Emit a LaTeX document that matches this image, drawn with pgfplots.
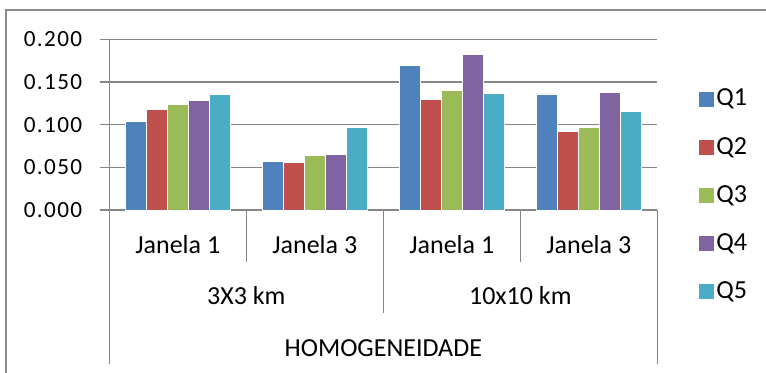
\documentclass[border=0pt]{standalone}
\usepackage{pgfplots}
\pgfplotsset{compat=1.18}
\usepackage{fontspec}
\setmainfont{Carlito}
\newfontfamily\tickfont{Carlito}[LetterSpace=6]

\definecolor{qone}{HTML}{4F81BD}
\definecolor{qtwo}{HTML}{C0504D}
\definecolor{qthree}{HTML}{9BBB59}
\definecolor{qfour}{HTML}{8064A2}
\definecolor{qfive}{HTML}{4BACC6}
\definecolor{gridgray}{HTML}{868686}
\definecolor{framegray}{HTML}{8C8C8C}

\begin{document}
\begin{tikzpicture}
\clip (0,0) rectangle (383pt,186pt);
% chart area frame
\draw[framegray, line width=0.75pt] (3pt,-5pt) -- (3pt,181pt) -- (390pt,181pt);
\begin{axis}[
  at={(54.65pt,81pt)}, anchor=south west,
  scale only axis, width=274pt, height=85.35pt,
  font=\fontsize{13}{15.6}\selectfont,
  ymin=0, ymax=0.2, ytick={0,0.05,...,0.2},
  xmin=-0.5, xmax=3.5,
  xtick={0,1,2,3},
  xticklabels={Janela 1, Janela 3, Janela 1, Janela 3},
  xticklabel style={anchor=base, yshift=-17.15pt},
  major x tick style={draw=none},
  /pgf/number format/assume math mode=true,
  yticklabel style={xshift=-5.5pt,
    font=\tickfont\fontsize{11.6}{14}\selectfont,
    /pgf/number format/.cd, fixed, fixed zerofill, precision=3},
  ytick align=outside, major tick length=4.5pt,
  ytick style={gridgray, line width=0.75pt},
  axis x line*=bottom, axis y line*=left,
  axis line style={gridgray, line width=0.75pt, -},
  ymajorgrids, grid style={gridgray, line width=0.75pt},
  ybar=0pt, bar width=10.54pt,
  clip=false,
  legend cell align=left,
  legend style={draw=none, fill=none, at={(1.062,0.746)}, anchor=north west,
    row sep=12.1pt, font=\fontsize{13}{15.6}\selectfont,
    nodes={inner sep=1pt}},
  legend image code/.code={\fill[#1] (0pt,-4pt) rectangle (8pt,4pt);},
]
\addplot[fill=qone, draw=white, line width=0.3pt] coordinates {(0,0.104) (1,0.057) (2,0.169) (3,0.136)};
\addplot[fill=qtwo, draw=white, line width=0.3pt] coordinates {(0,0.118) (1,0.056) (2,0.130) (3,0.092)};
\addplot[fill=qthree, draw=white, line width=0.3pt] coordinates {(0,0.124) (1,0.064) (2,0.140) (3,0.097)};
\addplot[fill=qfour, draw=white, line width=0.3pt] coordinates {(0,0.128) (1,0.065) (2,0.182) (3,0.138)};
\addplot[fill=qfive, draw=white, line width=0.3pt] coordinates {(0,0.135) (1,0.097) (2,0.137) (3,0.116)};
\legend{Q1,Q2,Q3,Q4,Q5}

% category separators of the multi-level axis
\draw[gridgray, line width=0.75pt] (axis cs:0.5,0) -- ([yshift=-25.85pt]axis cs:0.5,0);
\draw[gridgray, line width=0.75pt] (axis cs:2.5,0) -- ([yshift=-25.85pt]axis cs:2.5,0);
\draw[gridgray, line width=0.75pt] (axis cs:1.5,0) -- ([yshift=-51.5pt]axis cs:1.5,0);
\draw[gridgray, line width=0.75pt] ([xshift=-4.5pt]axis cs:-0.5,0) -- (axis cs:-0.5,0) -- ([yshift=-77pt]axis cs:-0.5,0);
\draw[gridgray, line width=0.75pt] (axis cs:3.5,0) -- ([yshift=-77pt]axis cs:3.5,0);
% group and title labels
\node[anchor=base] at ([yshift=-47.15pt]axis cs:0.5,0) {3X3 km};
\node[anchor=base] at ([yshift=-47.15pt]axis cs:2.5,0) {10x10 km};
\node[anchor=base] at ([yshift=-73pt]axis cs:1.5,0) {HOMOGENEIDADE};
\end{axis}
\end{tikzpicture}
\end{document}
